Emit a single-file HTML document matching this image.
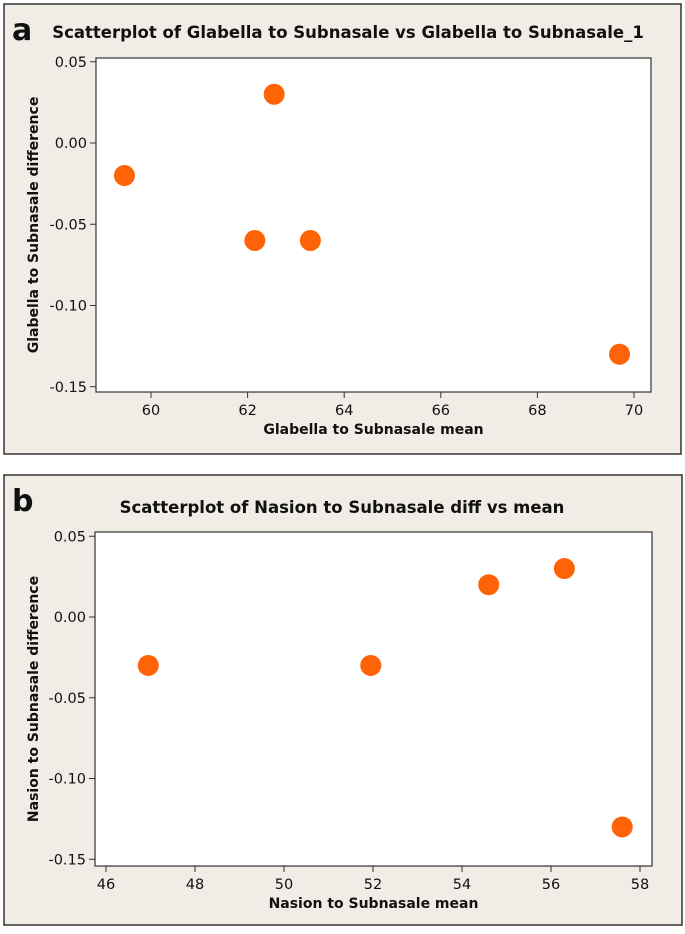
<!DOCTYPE html>
<html><head><meta charset="utf-8">
<style>
html,body{margin:0;padding:0;background:#fff;}
body{width:685px;height:930px;overflow:hidden;font-family:"DejaVu Sans","Liberation Sans",sans-serif;}
</style></head>
<body>
<svg id="chart" width="685" height="930" xmlns="http://www.w3.org/2000/svg">
<rect x="0" y="0" width="685" height="930" fill="#ffffff"/>
</svg>
<script>
// Panel a data
const aMean = [59.45, 62.55, 62.15, 63.3, 69.7];
const aDiff = [-0.02, 0.03, -0.06, -0.06, -0.13];
const aXTicks = [60, 62, 64, 66, 68, 70];
const aYTicks = [0.05, 0.00, -0.05, -0.10, -0.15];
// Panel b data
const bMean = [46.95, 51.95, 54.6, 56.3, 57.6];
const bDiff = [-0.03, -0.03, 0.02, 0.03, -0.13];
const bXTicks = [46, 48, 50, 52, 54, 56, 58];
const bYTicks = [0.05, 0.00, -0.05, -0.10, -0.15];

const NS = "http://www.w3.org/2000/svg";
const svg = document.getElementById('chart');
function mk(tag, attrs, parent){
  const e = document.createElementNS(NS, tag);
  for (const k in attrs) e.setAttribute(k, attrs[k]);
  (parent||svg).appendChild(e);
  return e;
}
function fmt(v){ return v.toFixed(2).replace('-0.00','0.00'); }

function panel(cfg){
  const g = mk('g', {});
  
  
  const box = mk('rect', {x:cfg.box[0], y:cfg.box[1], width:cfg.box[2], height:cfg.box[3], fill:'#f1ece6', stroke:'#333', 'stroke-width':1.5}, g);
  
  
  const lab = mk('text', {x:cfg.box[0]+8, y:cfg.box[1]+36, 'font-size':30, 'font-weight':'bold', fill:'#111'}, g);
  lab.textContent = cfg.letter;
  
  
  const t = mk('text', {x:cfg.titleX, y:cfg.titleY, 'font-size':16.5, 'font-weight':'bold', 'text-anchor':'middle', fill:'#111'}, g);
  t.textContent = cfg.title;
  
  
  const p = cfg.plot;
  const pr = mk('rect', {x:p.l, y:p.t, width:p.r-p.l, height:p.b-p.t, fill:'#fff', stroke:'#333', 'stroke-width':1.2}, g);
  
  
  const sx = v => cfg.x0px + (v - cfg.x0) * cfg.xk;
  const sy = v => cfg.y0px + (v - cfg.y0) * cfg.yk;
  cfg.xticks.forEach(v=>{
    const x = sx(v);
    mk('line', {x1:x, x2:x, y1:p.b, y2:p.b+6, stroke:'#333'}, g);
    const tx = mk('text', {x:x, y:p.b+23, 'font-size':14.5, 'text-anchor':'middle', fill:'#111'}, g);
    tx.textContent = v;
    
    
  });
  cfg.yticks.forEach(v=>{
    const y = sy(v);
    mk('line', {x1:p.l-6, x2:p.l, y1:y, y2:y, stroke:'#333'}, g);
    const ty = mk('text', {x:p.l-9, y:y+5, 'font-size':14.5, 'text-anchor':'end', fill:'#111'}, g);
    ty.textContent = fmt(v);
    
    
  });
  const xt = mk('text', {x:(p.l+p.r)/2, y:p.b+42, 'font-size':14, 'font-weight':'bold', 'text-anchor':'middle', fill:'#111'}, g);
  xt.textContent = cfg.xlabel;
  
  
  const yx = cfg.box[0]+34, yy = (p.t+p.b)/2;
  const yt = mk('text', {x:yx, y:yy, 'font-size':14, 'font-weight':'bold', 'text-anchor':'middle', fill:'#111', transform:`rotate(-90 ${yx} ${yy})`}, g);
  yt.textContent = cfg.ylabel;
  
  
  cfg.xs.forEach((v,i)=>{
    const c = mk('circle', {cx:sx(v), cy:sy(cfg.ys[i]), r:10.5, fill:'#ff6307'}, g);
    
    
  });
}

panel({name:'panel-a', letter:'a', box:[4,4,677,450],
  title:'Scatterplot of Glabella to Subnasale vs Glabella to Subnasale_1', titleX:348, titleY:38,
  plot:{l:96,t:58,r:651,b:392},
  x0:60, x0px:151, xk:48.3, y0:0, y0px:143, yk:-1625,
  xticks:aXTicks, yticks:aYTicks, xs:aMean, ys:aDiff,
  xlabel:'Glabella to Subnasale mean', ylabel:'Glabella to Subnasale difference'});

panel({name:'panel-b', letter:'b', box:[4,475,678,450],
  title:'Scatterplot of Nasion to Subnasale diff vs mean', titleX:342, titleY:513,
  plot:{l:95,t:532,r:652,b:866},
  x0:58, x0px:640, xk:44.5, y0:0, y0px:617, yk:-1615,
  xticks:bXTicks, yticks:bYTicks, xs:bMean, ys:bDiff,
  xlabel:'Nasion to Subnasale mean', ylabel:'Nasion to Subnasale difference'});
</script>
</body></html>
